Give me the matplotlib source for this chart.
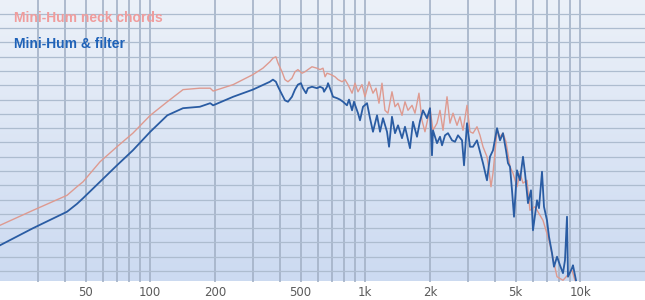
import numpy as np
import matplotlib
matplotlib.use("Agg")
import matplotlib.pyplot as plt

# frequency (Hz) / level (dB)
neck_freq = [20, 28.5, 41, 45.6, 48.7, 58.4, 70, 83, 100, 120, 142, 170, 190, 196, 243, 300,
             334, 360, 372, 384, 393, 410, 423, 437, 456, 471, 486, 508, 524, 541, 565, 596,
             616, 636, 650, 664, 693, 723, 747, 780, 805, 831, 868, 896, 925,
             965, 997, 1041, 1086, 1122, 1158, 1196, 1235, 1275, 1331, 1375, 1420, 1482,
             1530, 1580, 1650, 1703, 1777, 1835, 1895, 1957, 2000, 2065, 2156, 2226, 2299,
             2400, 2477, 2559, 2671, 2757, 2848, 2973, 3069, 3170, 3308, 3416, 3528, 3682,
             3722, 3843, 3927, 4100, 4233, 4370, 4513, 4711, 4864, 5078, 5244, 5414, 5651,
             5834, 6155, 6707, 7153, 7795, 8309, 9150, 9450]
neck_db = [6.4, 8.5, 10.6, 11.8, 12.5, 15.3, 17.4, 19.3, 21.8, 23.7, 25.4, 25.6, 25.6, 25.2, 26.1, 27.5,
           28.4, 29.3, 29.8, 30.0, 29.1, 27.9, 26.8, 26.5, 27.0, 27.9, 28.2, 27.7, 27.9, 28.2, 28.6, 28.4,
           28.2, 28.4, 27.2, 27.7, 27.5, 27.2, 26.8, 26.5, 26.8, 26.1, 24.9, 26.3, 25.1,
           26.1, 24.4, 26.5, 24.9, 25.6, 23.5, 26.3, 22.5, 22.1, 25.1, 23.0, 23.5, 21.8,
           23.7, 22.5, 23.2, 22.1, 24.9, 21.1, 19.5, 21.4, 22.8, 19.7, 20.7, 22.5, 19.7,
           24.4, 20.7, 22.1, 20.4, 21.6, 19.7, 23.2, 19.5, 19.3, 20.2, 19.0, 17.4, 16.0,
           15.1, 11.8, 13.7, 19.7, 18.8, 19.3, 18.1, 14.6, 13.7, 11.8, 13.7, 12.3, 12.7,
           8.5, 9.0, 7.1, 4.3, -0.8, -1.3, 0.1, -1.3]

filter_freq = [20, 28.5, 41, 45.6, 48.7, 58.4, 70, 83, 100, 120, 142, 170, 190, 196, 243, 300,
               360, 372, 384, 393, 410, 423, 437, 456, 471, 486, 502, 513, 530, 541, 565, 596,
               616, 636, 643, 664, 671, 685, 708, 739, 763, 788, 822, 840, 868, 886, 925,
               945, 976, 1019, 1052, 1086, 1134, 1171, 1209, 1262, 1290, 1331, 1375, 1420,
               1482, 1530, 1614, 1667, 1740, 1797, 1855, 1936, 2000, 2043, 2065, 2156, 2226,
               2275, 2349, 2425, 2532, 2614, 2699, 2818, 2879, 2973, 3069, 3170, 3308, 3416,
               3528, 3682, 3802, 3927, 4100, 4233, 4370, 4513, 4610, 4711, 4813, 4918, 5078,
               5244, 5414, 5533, 5713, 5898, 6026, 6291, 6427, 6637, 6780, 7000, 7153, 7387,
               7546, 7795, 8047, 8309, 8489, 8674, 8767, 9150, 9248, 9550]
filter_db = [3.6, 6.0, 8.3, 9.4, 10.2, 12.5, 14.8, 16.9, 19.5, 21.8, 22.8, 23.0, 23.5, 23.2, 24.4, 25.4,
             26.5, 26.8, 26.5, 25.8, 24.7, 23.9, 23.7, 24.4, 25.4, 26.1, 26.3, 25.6, 24.9, 25.6, 25.8, 25.6,
             25.8, 25.6, 25.1, 25.8, 26.3, 25.6, 24.4, 24.2, 24.0, 23.7, 23.2, 24.0, 22.5, 23.7, 22.1,
             21.1, 23.0, 23.5, 21.4, 19.5, 21.8, 19.5, 21.4, 19.5, 17.4, 21.6, 19.3, 20.4,
             18.6, 20.2, 17.2, 20.9, 18.8, 21.0, 22.5, 21.4, 22.8, 16.2, 19.7, 17.9, 18.8,
             17.6, 19.0, 19.3, 18.3, 18.1, 19.0, 18.3, 14.8, 20.7, 17.4, 17.4, 18.3, 16.7,
             15.1, 12.7, 16.0, 16.9, 20.0, 18.3, 19.3, 16.9, 15.1, 14.6, 11.3, 7.6, 14.1,
             12.7, 16.0, 13.7, 9.5, 11.3, 5.7, 9.9, 8.8, 13.9, 9.0, 7.1, 4.8, 2.5,
             0.6, 2.0, 0.8, -0.3, 1.5, 7.6, -0.8, 0.4, 0.8, -1.3]

grid_freqs = [30, 40, 50, 60, 70, 80, 90, 100, 200, 300, 400, 500, 600, 700, 800, 900,
              1000, 2000, 3000, 4000, 5000, 6000, 7000, 8000, 9000, 10000]
label_freqs = {50: "50", 100: "100", 200: "200", 500: "500", 1000: "1k",
               2000: "2k", 5000: "5k", 10000: "10k"}

fig = plt.figure(figsize=(6.45, 3.0), dpi=100)
fig.patch.set_facecolor("white")
ax = fig.add_axes([0, 18.5 / 300, 1, 281.5 / 300])

# background gradient, lighter at the top
top = np.array([0.925, 0.945, 0.975])
bot = np.array([0.80, 0.855, 0.945])
t = np.linspace(0, 1, 256)[:, None]
grad = top[None, :] * (1 - t) + bot[None, :] * t
ax.imshow(grad[:, None, :], extent=[0, 1, 0, 1], transform=ax.transAxes,
          aspect="auto", zorder=0)

ax.set_xscale("log")
ax.set_xlim(20, 20000)
ax.set_ylim(-1.47, 37.95)

for f in grid_freqs:
    ax.axvline(f, color="#a3b1c6", lw=1.2, zorder=1)
for y in range(0, 38, 2):
    ax.axhline(y, color="#adbccf", lw=0.9, zorder=1)

ax.plot(neck_freq, neck_db, color="#de9a90", lw=1.0, zorder=3)
ax.plot(filter_freq, filter_db, color="#2a5ca3", lw=1.3, zorder=4)

ax.set_xticks(list(label_freqs.keys()))
ax.set_xticklabels(list(label_freqs.values()), color="#5a5a5a", fontsize=8.5)
ax.xaxis.set_minor_locator(matplotlib.ticker.NullLocator())
ax.tick_params(axis="x", length=0, pad=3.5)
ax.set_yticks([])
for s in ax.spines.values():
    s.set_visible(False)

fig.text(14 / 645, 1 - 18 / 300, "Mini-Hum neck chords", color="#f09c9c",
         fontsize=10, fontweight="bold", family="Liberation Sans", va="center")
fig.text(14 / 645, 1 - 44 / 300, "Mini-Hum & filter", color="#1f62b8",
         fontsize=10, fontweight="bold", family="Liberation Sans", va="center")

fig.savefig("out.png", dpi=100)
